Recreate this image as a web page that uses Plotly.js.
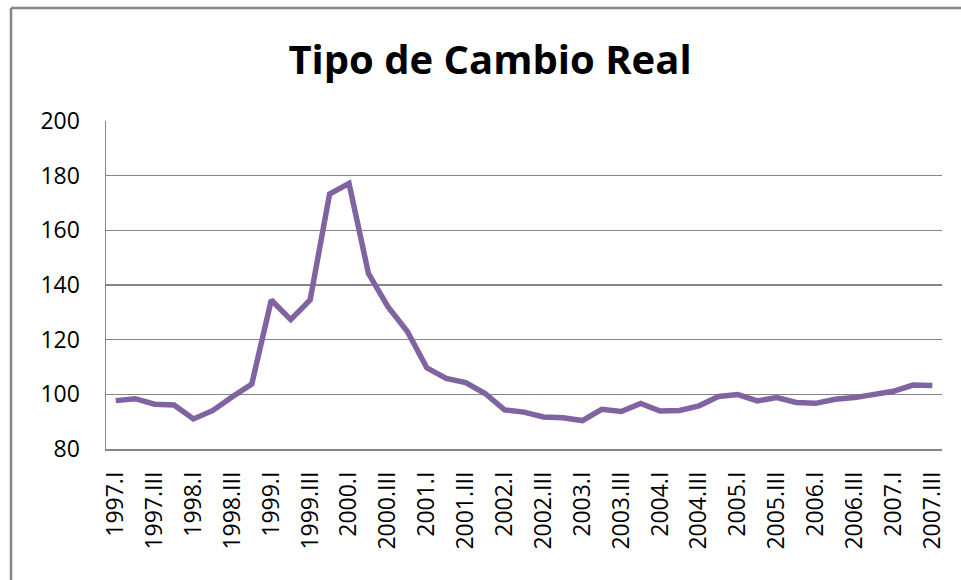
<!DOCTYPE html>
<html>
<head>
<meta charset="utf-8">
<script src="https://cdn.plot.ly/plotly-3.0.1.min.js"></script>
<style>
html,body{margin:0;padding:0;background:#fff;}
#chart{width:961px;height:580px;}
</style>
</head>
<body>
<div id="chart"></div>
<script>
var quarters = [
  "1997.I","1997.II","1997.III","1997.IV",
  "1998.I","1998.II","1998.III","1998.IV",
  "1999.I","1999.II","1999.III","1999.IV",
  "2000.I","2000.II","2000.III","2000.IV",
  "2001.I","2001.II","2001.III","2001.IV",
  "2002.I","2002.II","2002.III","2002.IV",
  "2003.I","2003.II","2003.III","2003.IV",
  "2004.I","2004.II","2004.III","2004.IV",
  "2005.I","2005.II","2005.III","2005.IV",
  "2006.I","2006.II","2006.III","2006.IV",
  "2007.I","2007.II","2007.III"
];
var tipoCambioReal = [
  97.7, 98.4, 96.4, 96.1,
  91.0, 94.1, 99.1, 103.8,
  134.5, 127.3, 134.5, 173.3,
  177.2, 144.2, 132.1, 123.0,
  109.7, 105.8, 104.3, 100.3,
  94.3, 93.5, 91.7, 91.4,
  90.4, 94.5, 93.7, 96.7,
  93.9, 94.1, 95.8, 99.2,
  99.9, 97.6, 98.8, 97.0,
  96.7, 98.2, 98.8, 100.1,
  101.1, 103.4, 103.2
];
var xTickLabels = quarters.filter(function(q, i){ return i % 2 === 0; });
var yTicks = [80, 100, 120, 140, 160, 180, 200];

var trace = {
  x: quarters,
  y: tipoCambioReal,
  type: 'scatter',
  mode: 'lines',
  line: {color: '#8064A2', width: 5.5, shape: 'linear'},
  hoverinfo: 'x+y'
};

var tickFont = {family: 'Open Sans, sans-serif', size: 23, color: '#000'};

var layout = {
  width: 961,
  height: 580,
  margin: {l: 106, r: 19, t: 121, b: 131},
  paper_bgcolor: '#fff',
  plot_bgcolor: '#fff',
  showlegend: false,
  title: {
    text: '<b>Tipo de Cambio Real</b>',
    font: {family: 'Open Sans, sans-serif', size: 40, color: '#000'},
    xref: 'container', x: 490/961, xanchor: 'center',
    yref: 'container', y: 1 - 60/580, yanchor: 'middle'
  },
  xaxis: {
    type: 'category',
    range: [-0.5, quarters.length - 0.5],
    tickmode: 'array',
    tickvals: xTickLabels,
    ticktext: xTickLabels,
    tickangle: -90,
    tickfont: tickFont,
    ticks: '',
    ticklabelstandoff: 12,
    showgrid: false,
    showline: true,
    linecolor: '#868686',
    linewidth: 1.5,
    zeroline: false,
    fixedrange: true
  },
  yaxis: {
    range: [80, 200],
    tickmode: 'array',
    tickvals: yTicks,
    ticktext: yTicks.map(String),
    tickfont: tickFont,
    ticks: '',
    ticklabelstandoff: 20,
    showgrid: true,
    gridcolor: '#868686',
    gridwidth: 1.5,
    showline: true,
    linecolor: '#868686',
    linewidth: 1.5,
    zeroline: false,
    fixedrange: true
  },
  shapes: [
    {type: 'line', xref: 'paper', yref: 'paper',
     x0: (11 - 106) / 836, x1: (11 - 106) / 836,
     y0: 1 + (121 - 8) / 328, y1: -0.5,
     line: {color: '#868686', width: 2.5}},
    {type: 'line', xref: 'paper', yref: 'paper',
     x0: (11 - 106) / 836, x1: 1.1,
     y0: 1 + (121 - 8) / 328, y1: 1 + (121 - 8) / 328,
     line: {color: '#868686', width: 2.5}}
  ]
};

Plotly.newPlot('chart', [trace], layout, {displayModeBar: false, staticPlot: true});
</script>
</body>
</html>
